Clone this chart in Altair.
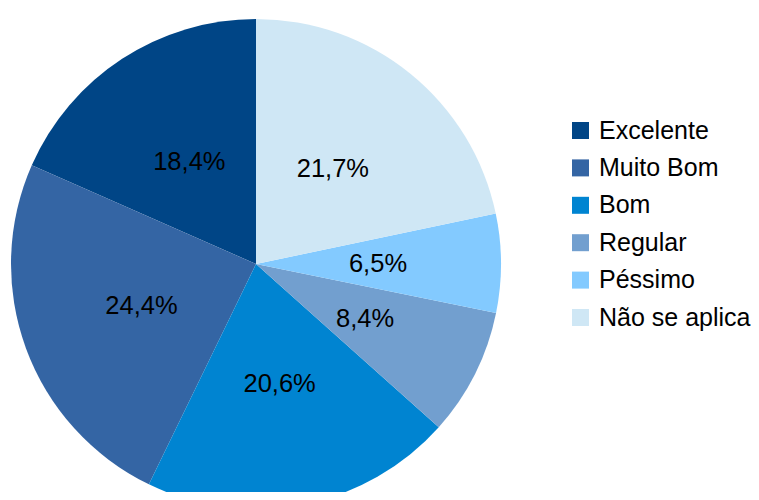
import altair as alt
import pandas as pd

categories = ["Excelente", "Muito Bom", "Bom", "Regular", "Péssimo", "Não se aplica"]
values = [18.4, 24.4, 20.6, 8.4, 6.5, 21.7]
labels = ["18,4%", "24,4%", "20,6%", "8,4%", "6,5%", "21,7%"]
# drawing order clockwise from 12 o'clock
draw_order = [6, 5, 4, 3, 2, 1]
colors = ["#004586", "#3465a4", "#0084d1", "#729fcf", "#83caff", "#cfe7f5"]

df = pd.DataFrame({"cat": categories, "val": values, "lab": labels, "ord": draw_order})

cx, cy, R = 248, 256, 245

base = alt.Chart(df).encode(
    theta=alt.Theta("val:Q", stack=True),
    order=alt.Order("ord:Q", sort="ascending"),
    x=alt.value(cx),
    y=alt.value(cy),
)

arcs = base.mark_arc(outerRadius=R, stroke=None).encode(
    color=alt.Color(
        "cat:N",
        scale=alt.Scale(domain=categories, range=colors),
        sort=categories,
        legend=alt.Legend(
            title=None,
            orient="none",
            legendX=560,
            legendY=110,
            labelFont="Liberation Sans",
            labelFontSize=25,
            labelColor="#000000",
            symbolType="square",
            symbolSize=289,
            symbolStrokeWidth=0,
            labelOffset=6,
            rowPadding=11.4,
            labelLimit=300,
        ),
    )
)

texts = base.mark_text(
    radius=122, font="Liberation Sans", fontSize=25.5, color="#000000"
).encode(text="lab:N")

chart = (
    alt.layer(arcs, texts)
    .properties(width=743, height=484, padding=0, autosize=alt.AutoSizeParams(type="none"))
    .configure_view(stroke=None)
)

chart.save("out.html", embed_options={"renderer": "svg", "actions": False})
